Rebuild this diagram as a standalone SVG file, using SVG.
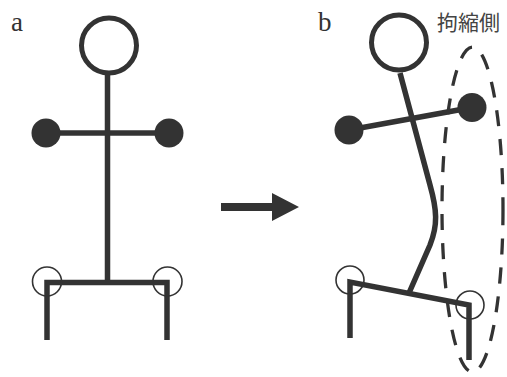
<svg xmlns="http://www.w3.org/2000/svg" width="507" height="377" viewBox="0 0 507 377">
  <style>
    .bone { fill: none; stroke: #333; stroke-width: 5.5; stroke-linejoin: miter; stroke-linecap: butt; }
    .head { fill: #fff; stroke: #333; stroke-width: 5; }
    .hand { fill: #333; }
    .joint { fill: none; stroke: #333; stroke-width: 1.6; }
    .zone { fill: none; stroke: #333; stroke-width: 3.3; stroke-dasharray: 16 13; }
    .letter { font-family: "Liberation Serif", "DejaVu Serif", serif; font-size: 27px; fill: #333; }
    .note { font-family: "Noto Sans CJK JP", "Noto Sans CJK SC", sans-serif; font-size: 21px; fill: #444; }
  </style>
  <rect width="507" height="377" fill="#fff"/>

  <!-- panel labels -->
  <text class="letter" x="11" y="31">a</text>
  <text class="letter" x="318" y="31">b</text>

  <!-- upright posture -->
  <g id="figure-a">
    <line class="bone" x1="107.5" y1="75" x2="107.5" y2="283"/>
    <line class="bone" x1="46" y1="133" x2="169" y2="133"/>
    <path class="bone" d="M47,340 V282.5 H167 V340" stroke-width="6"/>
    <circle class="head" cx="109" cy="45.5" r="27.5"/>
    <circle class="hand" cx="46" cy="133" r="14.5"/>
    <circle class="hand" cx="169" cy="133" r="14.5"/>
    <circle class="joint" cx="47" cy="281.5" r="14.5"/>
    <circle class="joint" cx="167.5" cy="281.5" r="14.5"/>
  </g>

  <!-- transition arrow -->
  <g id="arrow">
    <path d="M221,203 H272 V193 L299,207 L272,221 V211 H221 Z" fill="#333"/>
  </g>

  <!-- leaning posture with contracted side -->
  <g id="figure-b">
    <path class="bone" d="M400,73 L430,185 C437,210 438,225 430,245 L409,293"/>
    <line class="bone" x1="349" y1="130" x2="472" y2="107.5"/>
    <path class="bone" d="M350,338 V282 L469,305 V360" stroke-width="6"/>
    <circle class="head" cx="399" cy="42.5" r="27.5"/>
    <circle class="hand" cx="349" cy="130" r="14.5"/>
    <circle class="hand" cx="472" cy="107.5" r="14.5"/>
    <circle class="joint" cx="350" cy="280" r="14"/>
    <circle class="joint" cx="470" cy="305" r="14"/>
  </g>

  <g id="contracted-side">
    <ellipse class="zone" cx="472.5" cy="209.5" rx="30.5" ry="162.5"/>
    <text class="note" x="437" y="30">拘縮側</text>
  </g>
</svg>
